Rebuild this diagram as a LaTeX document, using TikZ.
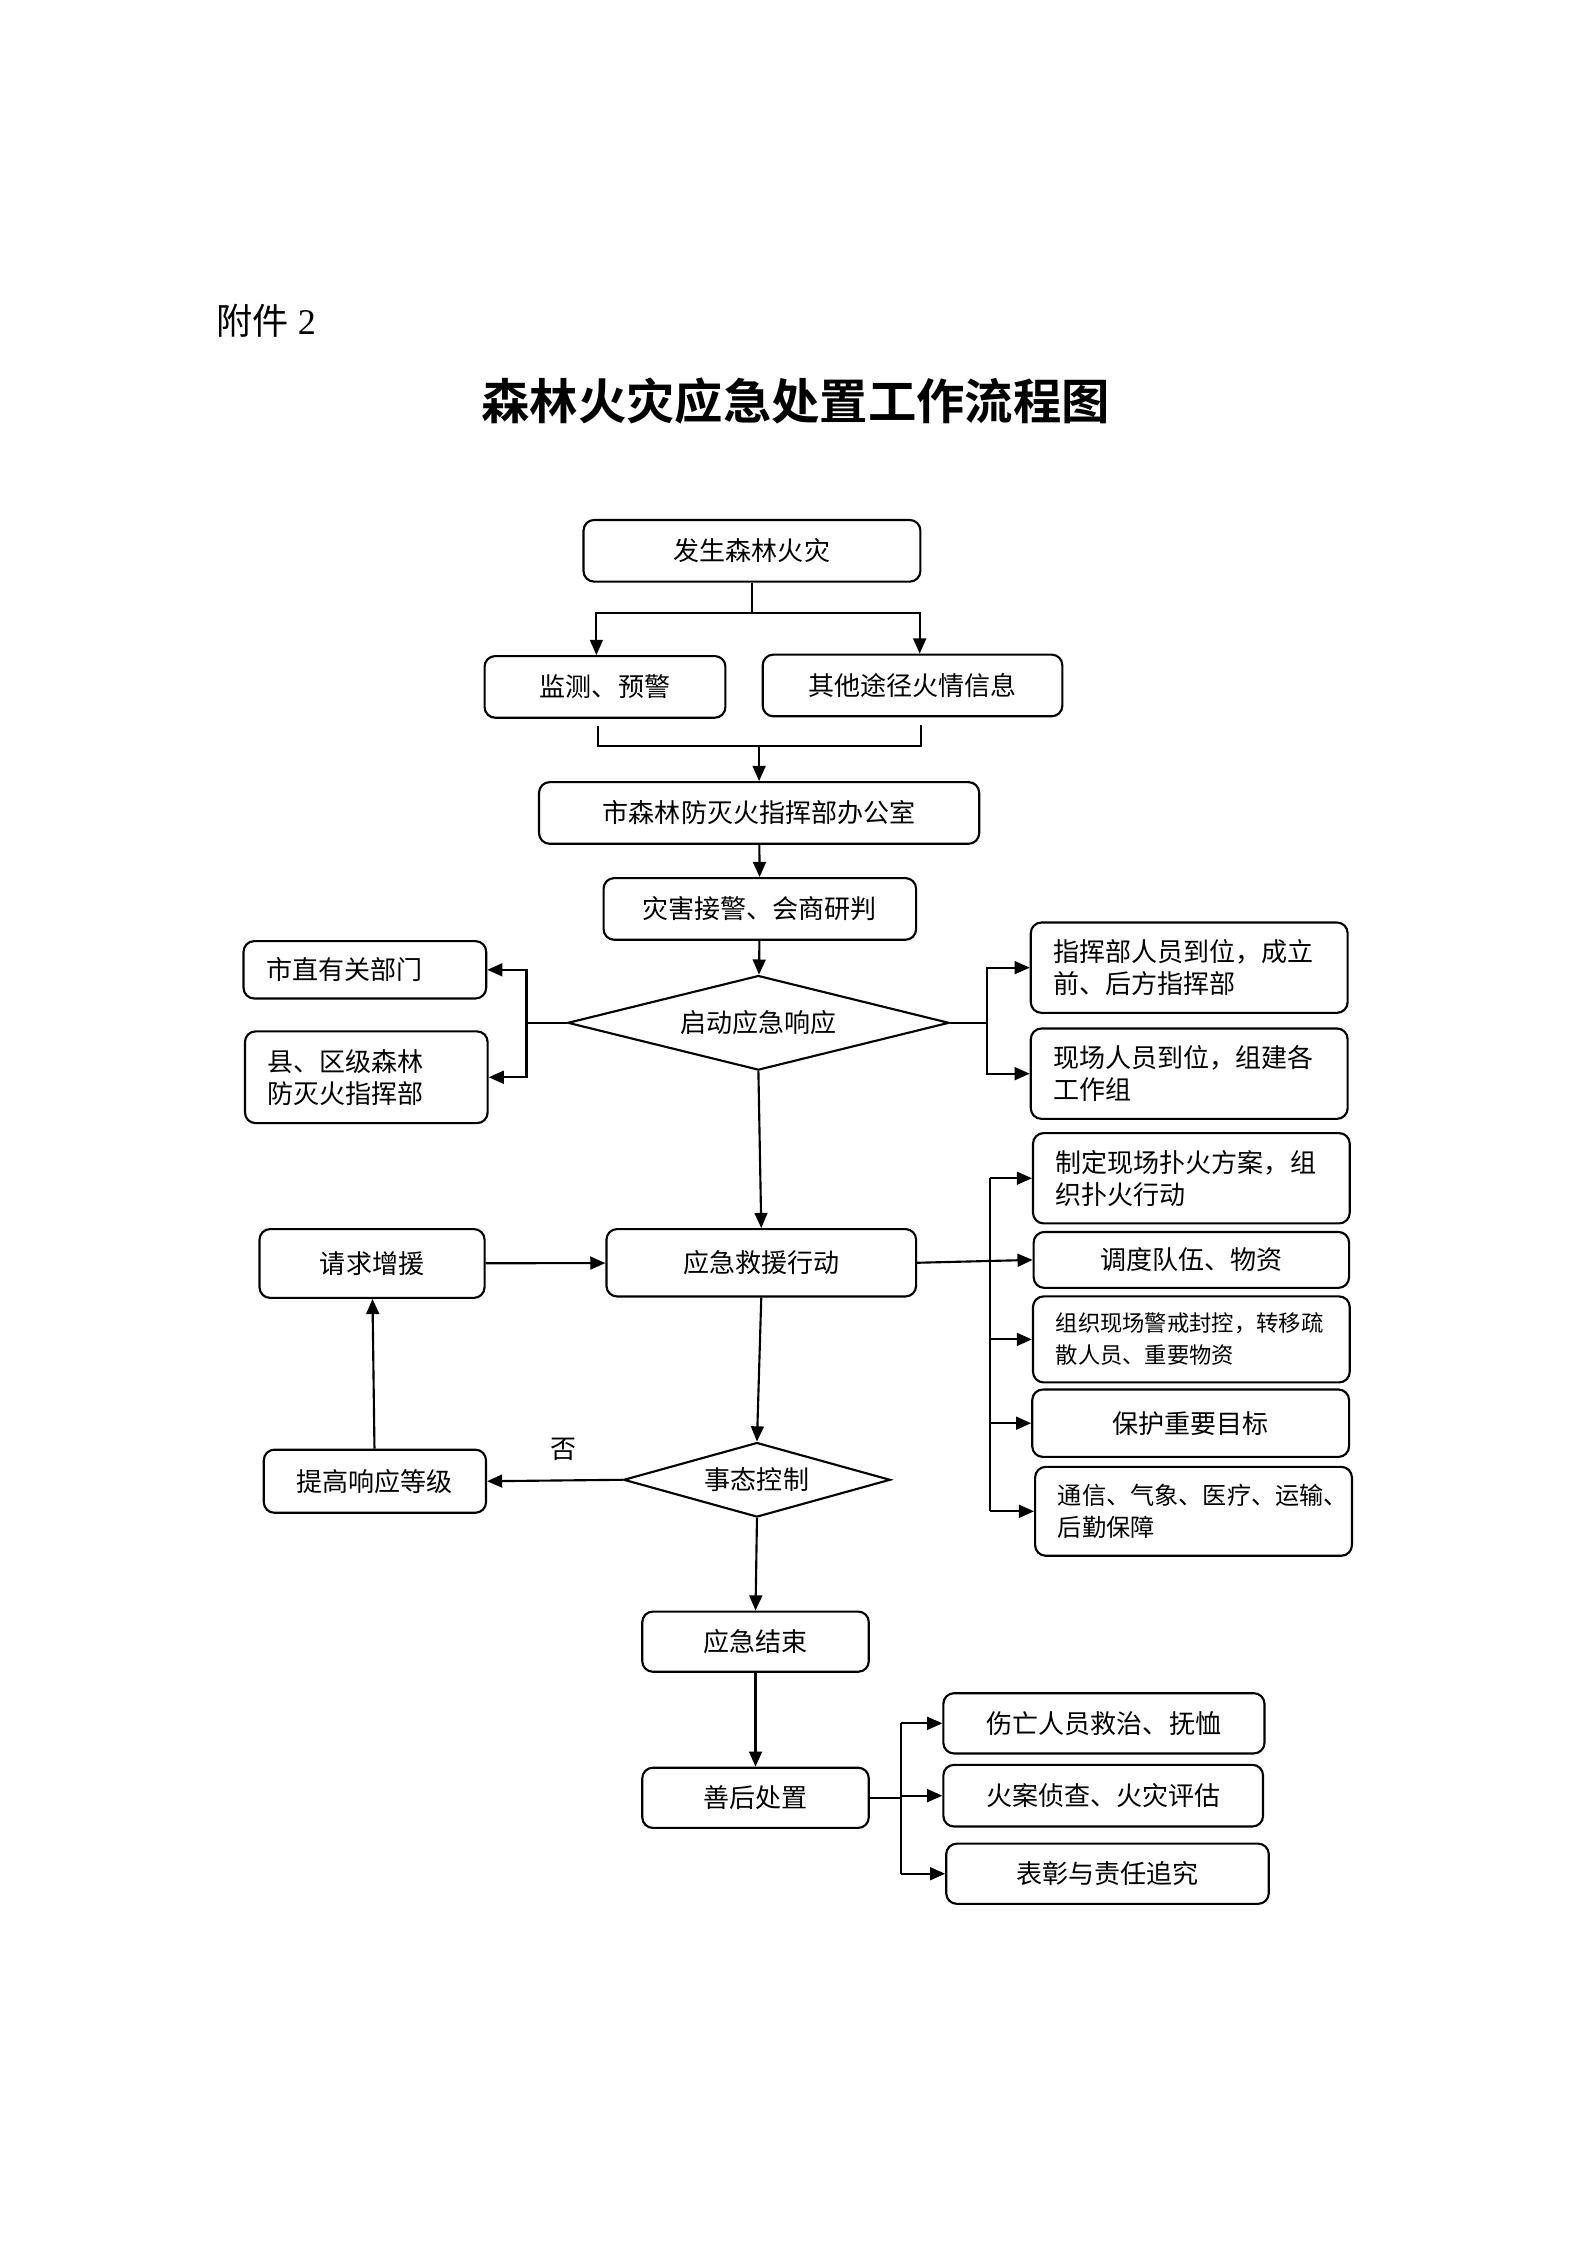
\documentclass[tikz,border=0pt]{standalone}
\usepackage{fontspec}
\setmainfont{Liberation Serif}
\newfontfamily\cjk[BoldFont={Noto Sans CJK SC Bold}]{Noto Sans CJK SC}
\usetikzlibrary{arrows.meta,shapes.geometric,calc}
\newcommand\pxl{0.01897cm}
\tikzset{
    card/.style 2 args={draw, rounded corners=4pt, line width=0.8pt, inner sep=0pt,
        minimum width=#1*\pxl, minimum height=#2*\pxl, font=\cjk\fontsize{9.8}{12}\selectfont},
    ltext/.style={align=left, inner xsep=0.3cm, text width=#1},
    ask/.style 2 args={draw, diamond, line width=0.8pt, inner sep=0pt, aspect=3,
        minimum width=#1*\pxl, minimum height=#2*\pxl, font=\cjk\fontsize{9.8}{12}\selectfont},
    line/.style={line width=0.8pt},
    arr/.style={line width=0.8pt, -{Triangle[length=2mm,width=1.7mm]}}
}
\begin{document}
\begin{tikzpicture}[x=0.01897cm, y=-0.01895cm]
    \useasboundingbox (0,0) rectangle (21cm,-29.7cm);
    % heading
    \node[anchor=west, font=\fontsize{13.6}{16}\selectfont] (annex) at (144.5,224) {{\cjk 附件} 2};
    \node[font=\cjk\bfseries\fontsize{18.2}{22}\selectfont] (title) at (555,280) {森林火灾应急处置工作流程图};
    % main column
    \node[card={235}{43}] (fire) at (524.5,384.5) {发生森林火灾};
    \node[card={168}{43}] (watch) at (422,479.5) {监测、预警};
    \node[card={209}{43}] (other) at (636.5,478.5) {其他途径火情信息};
    \node[card={307}{43}] (office) at (529.5,567.5) {市森林防灭火指挥部办公室};
    \node[card={218}{43}] (judge) at (530,634.5) {灾害接警、会商研判};
    \node[ask={266}{66}] (start) at (529,714) {启动应急响应};
    \node[card={216}{47}] (rescue) at (531,881.5) {应急救援行动};
    \node[ask={186}{52}] (ctrl) at (528,1033) {事态控制};
    \node[card={158}{42}] (finish) at (527,1146) {应急结束};
    \node[card={158}{42}] (after) at (527,1255) {善后处置};
    % left side
    \node[card={169}{40}, ltext=2.61cm] (dept) at (254.5,677) {市直有关部门};
    \node[card={169}{64}, ltext=2.61cm] (county) at (255.5,752) {县、区级森林\\防灭火指挥部};
    \node[card={157}{48}] (help) at (259.5,882) {请求增援};
    \node[card={155}{44}] (raise) at (261.5,1034) {提高响应等级};
    \node[font=\cjk\fontsize{9.8}{12}\selectfont] (no) at (393,1012) {否};
    % right side
    \node[card={221}{63}, ltext=3.59cm] (cmd) at (829.5,675.5) {指挥部人员到位，成立\\前、后方指挥部};
    \node[card={221}{63}, ltext=3.59cm] (site) at (829.5,749.5) {现场人员到位，组建各\\工作组};
    \node[card={220}{63}, ltext=3.59cm] (plan) at (831,822.5) {制定现场扑火方案，组\\织扑火行动};
    \node[card={220}{39}] (sched) at (831,879.5) {调度队伍、物资};
    \node[card={220}{60}, ltext=3.59cm, font=\cjk\fontsize{8.4}{12}\selectfont] (guard) at (831,935) {组织现场警戒封控，转移疏\\散人员、重要物资};
    \node[card={221}{47}] (protect) at (830.5,993.5) {保护重要目标};
    \node[card={221}{62}, ltext=3.59cm, font=\cjk\fontsize{9.1}{12}\selectfont] (comm) at (832.5,1055) {通信、气象、医疗、运输、\\后勤保障};
    \node[card={224}{42}] (hurt) at (770,1203) {伤亡人员救治、抚恤};
    \node[card={223}{43}] (probe) at (769.5,1253.5) {火案侦查、火灾评估};
    \node[card={225}{42}] (praise) at (772.5,1308) {表彰与责任追究};
    % connectors
    \draw[line] (fire.south) -- ++(0,21) coordinate (fork);
    \draw[arr] (fork) -| ($(watch.north)+(-6,0)$);
    \draw[arr] (fork) -| ($(other.north)+(5,0)$);
    \draw[line] ($(watch.south)+(-5,5)$) |- ($(other.south)+(6,20)$) -- ($(other.south)+(6,5)$);
    \draw[arr] (office.north |- 0,521) -- (office.north);
    \draw[arr] (office) -- (judge);
    \draw[arr] (judge) -- (start);
    \draw[line] (start.west) -- ++(-28,0) coordinate (lfork);
    \foreach \n in {dept, county}
        \draw[arr] (lfork) |- (\n.east);
    \draw[line] (start.east) -- ++(26,0) coordinate (rfork);
    \foreach \n in {cmd, site}
        \draw[arr] (rfork) |- (\n.west);
    \draw[arr] (start.south) -- (rescue.north);
    \draw[arr] (help) -- (rescue);
    \draw[arr] (rescue.east) -- (sched.west);
    \draw[line] ($(plan.west)+(-29,0)$) coordinate (bus) -- (bus |- comm.west);
    \foreach \n in {plan, guard, protect, comm}
        \draw[arr] (bus |- \n.west) -- (\n.west);
    \draw[arr] (rescue.south) -- (ctrl.north);
    \draw[arr] (ctrl.west) -- (raise.east);
    \draw[arr] (raise) -- (help);
    \draw[arr] (ctrl.south) -- (finish.north);
    \draw[arr] (finish) -- (after);
    \draw[line] (after.east) -- ++(22,0) coordinate (afork);
    \draw[line] (afork |- hurt.west) -- (afork |- praise.west);
    \foreach \n in {hurt, probe, praise}
        \draw[arr] (afork |- \n.west) -- (\n.west);
\end{tikzpicture}
\end{document}
